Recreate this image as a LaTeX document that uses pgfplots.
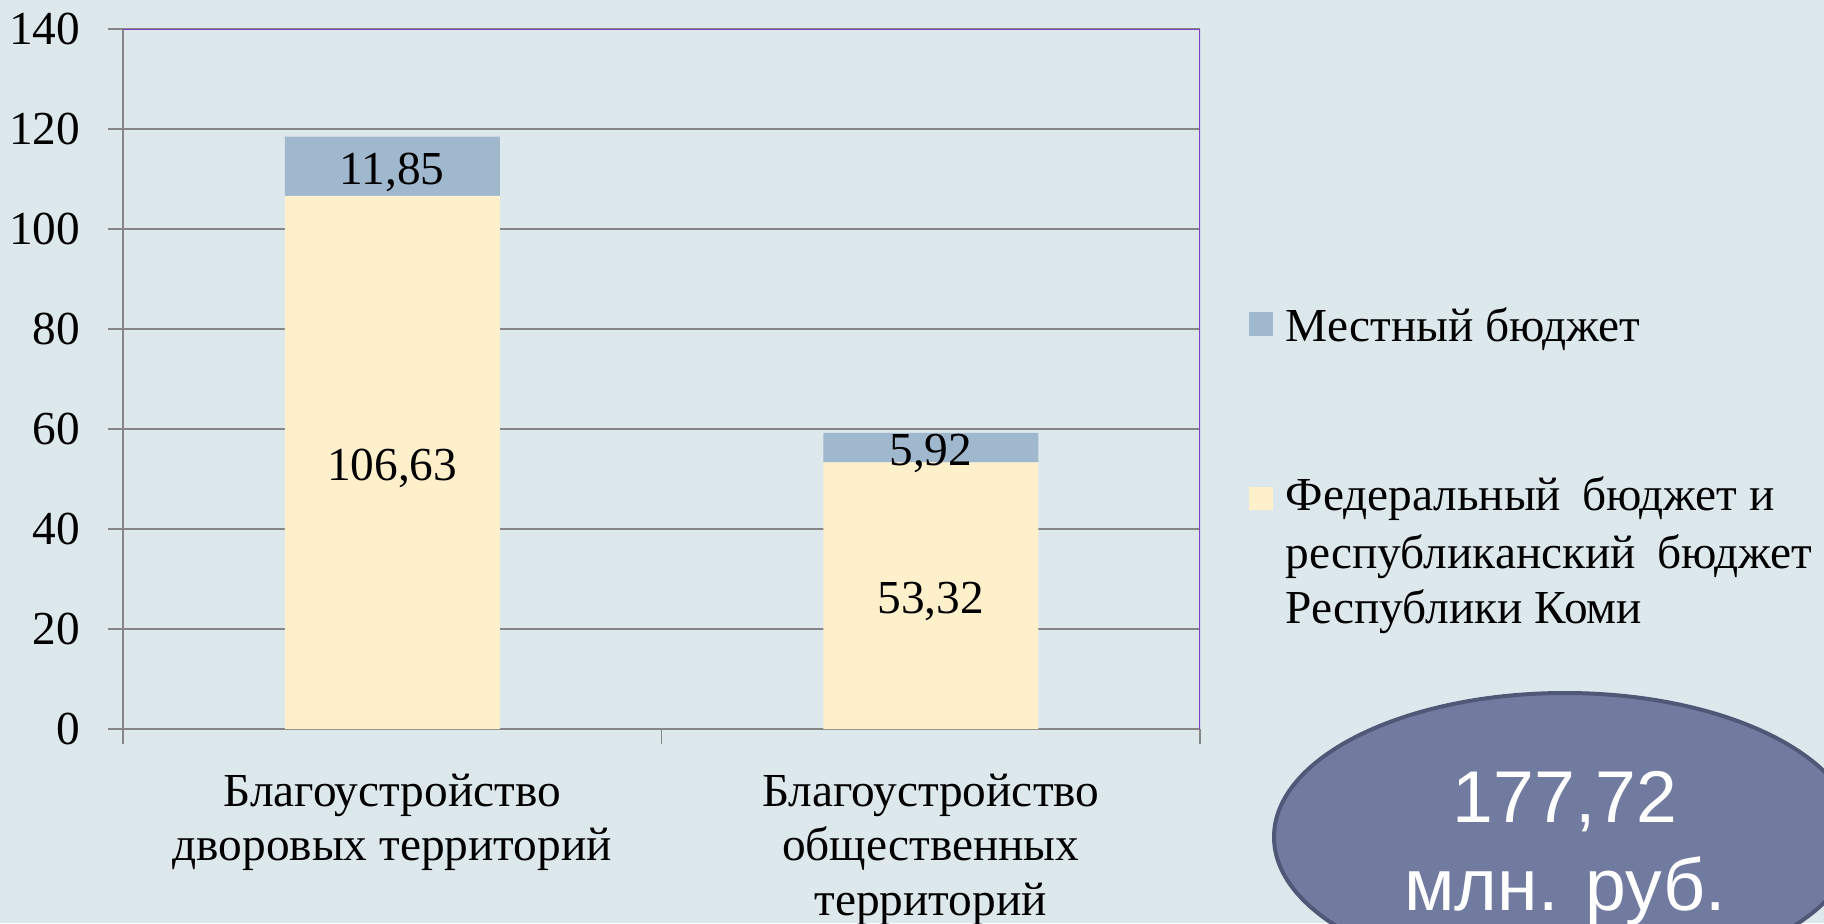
\documentclass[border=0pt]{standalone}
\usepackage{pgfplots}
\pgfplotsset{compat=1.18}
\usepackage{fontspec}
\setmainfont{Liberation Serif}
\newfontfamily\arialf{Liberation Sans}
\definecolor{bgc}{RGB}{221,232,237}
\definecolor{blu}{RGB}{160,184,206}
\definecolor{yel}{RGB}{255,240,204}
\definecolor{ellf}{RGB}{113,123,160}
\definecolor{elld}{RGB}{80,88,120}
\definecolor{gridc}{RGB}{134,134,134}
\definecolor{purp}{RGB}{128,64,192}
\newcommand{\lf}{\fontsize{14.2}{17.2}\selectfont}
\newcommand{\cf}{\fontsize{14.2}{16.4}\selectfont}
\begin{document}
\begin{tikzpicture}[x=0.3pt,y=0.3pt]
\path[use as bounding box] (0,0) rectangle (1824,923);
\fill[bgc] (0,0) rectangle (1824,923);
\begin{axis}[
  at={(36.9pt,58.2pt)}, anchor=south west,
  scale only axis, width=323.1pt, height=210pt,
  xmin=-0.5, xmax=1.5, ymin=0, ymax=140,
  enlargelimits=false,
  ybar stacked, bar width=64.5pt,
  axis x line*=bottom, axis y line*=left,
  axis line style={-, gridc, line width=0.45pt},
  ytick={0,20,...,140},
  ymajorgrids, grid style={gridc, line width=0.45pt},
  tick align=outside, major tick length=4.6pt,
  tick style={gridc, line width=0.45pt},
  xtick={-0.5,0.5,1.5}, xticklabels={},
  extra x ticks={0,1},
  extra x tick labels={{Благоустройство\\дворовых территорий}, {Благоустройство\\общественных\\территорий}},
  extra x tick style={major tick length=0pt},
  xticklabel style={align=center, anchor=north, inner sep=0pt, yshift=-13.2pt, font=\cf},
  yticklabel style={anchor=east, inner sep=0pt, xshift=-8pt, font=\lf},
  /pgf/number format/assume math mode=true,
]
\addplot[fill=yel, draw=none] coordinates {(0,106.63) (1,53.32)};
\addplot[fill=blu, draw=none] coordinates {(0,11.85) (1,5.92)};
\draw[purp, line width=0.45pt] (rel axis cs:0,1) -- (rel axis cs:1,1) -- (rel axis cs:1,0);
\coordinate (a1) at (axis cs:0,112.555);
\coordinate (a2) at (axis cs:0,53.315);
\coordinate (b1) at (axis cs:1,56.28);
\coordinate (b2) at (axis cs:1,26.66);
\end{axis}
\node[font=\lf, yshift=-1.8pt] at (a1) {11,85};
\node[font=\lf, yshift=-1.8pt] at (a2) {106,63};
\node[font=\lf, yshift=-1.8pt] at (b1) {5,92};
\node[font=\lf, yshift=-1.8pt] at (b2) {53,32};
% legend
\fill[blu] (1249,587) rectangle (1273,611);
\fill[yel] (1249,413) rectangle (1273,436);
\node[font=\lf, inner sep=0pt, anchor=base west] at (1285,581) {Местный бюджет};
\node[font=\lf, inner sep=0pt, anchor=base west] at (1285,413) {Федеральный\hspace{0.45em}бюджет и};
\node[font=\lf, inner sep=0pt, anchor=base west] at (1285,355) {республиканский\hspace{0.45em}бюджет};
\node[font=\lf, inner sep=0pt, anchor=base west] at (1285,300) {Республики Коми};
% total ellipse
\begin{scope}
\clip (0,0) rectangle (1824,923);
\filldraw[fill=ellf, draw=elld, line width=1.2pt] (1565,86) ellipse [x radius=291, y radius=144];
\end{scope}
\node[white, font=\arialf\fontsize{22}{26}\selectfont, anchor=base] at (1565,101) {177,72};
\node[white, font=\arialf\fontsize{22}{26}\selectfont, anchor=base] at (1565,13) {млн. руб.};
\end{tikzpicture}
\end{document}
